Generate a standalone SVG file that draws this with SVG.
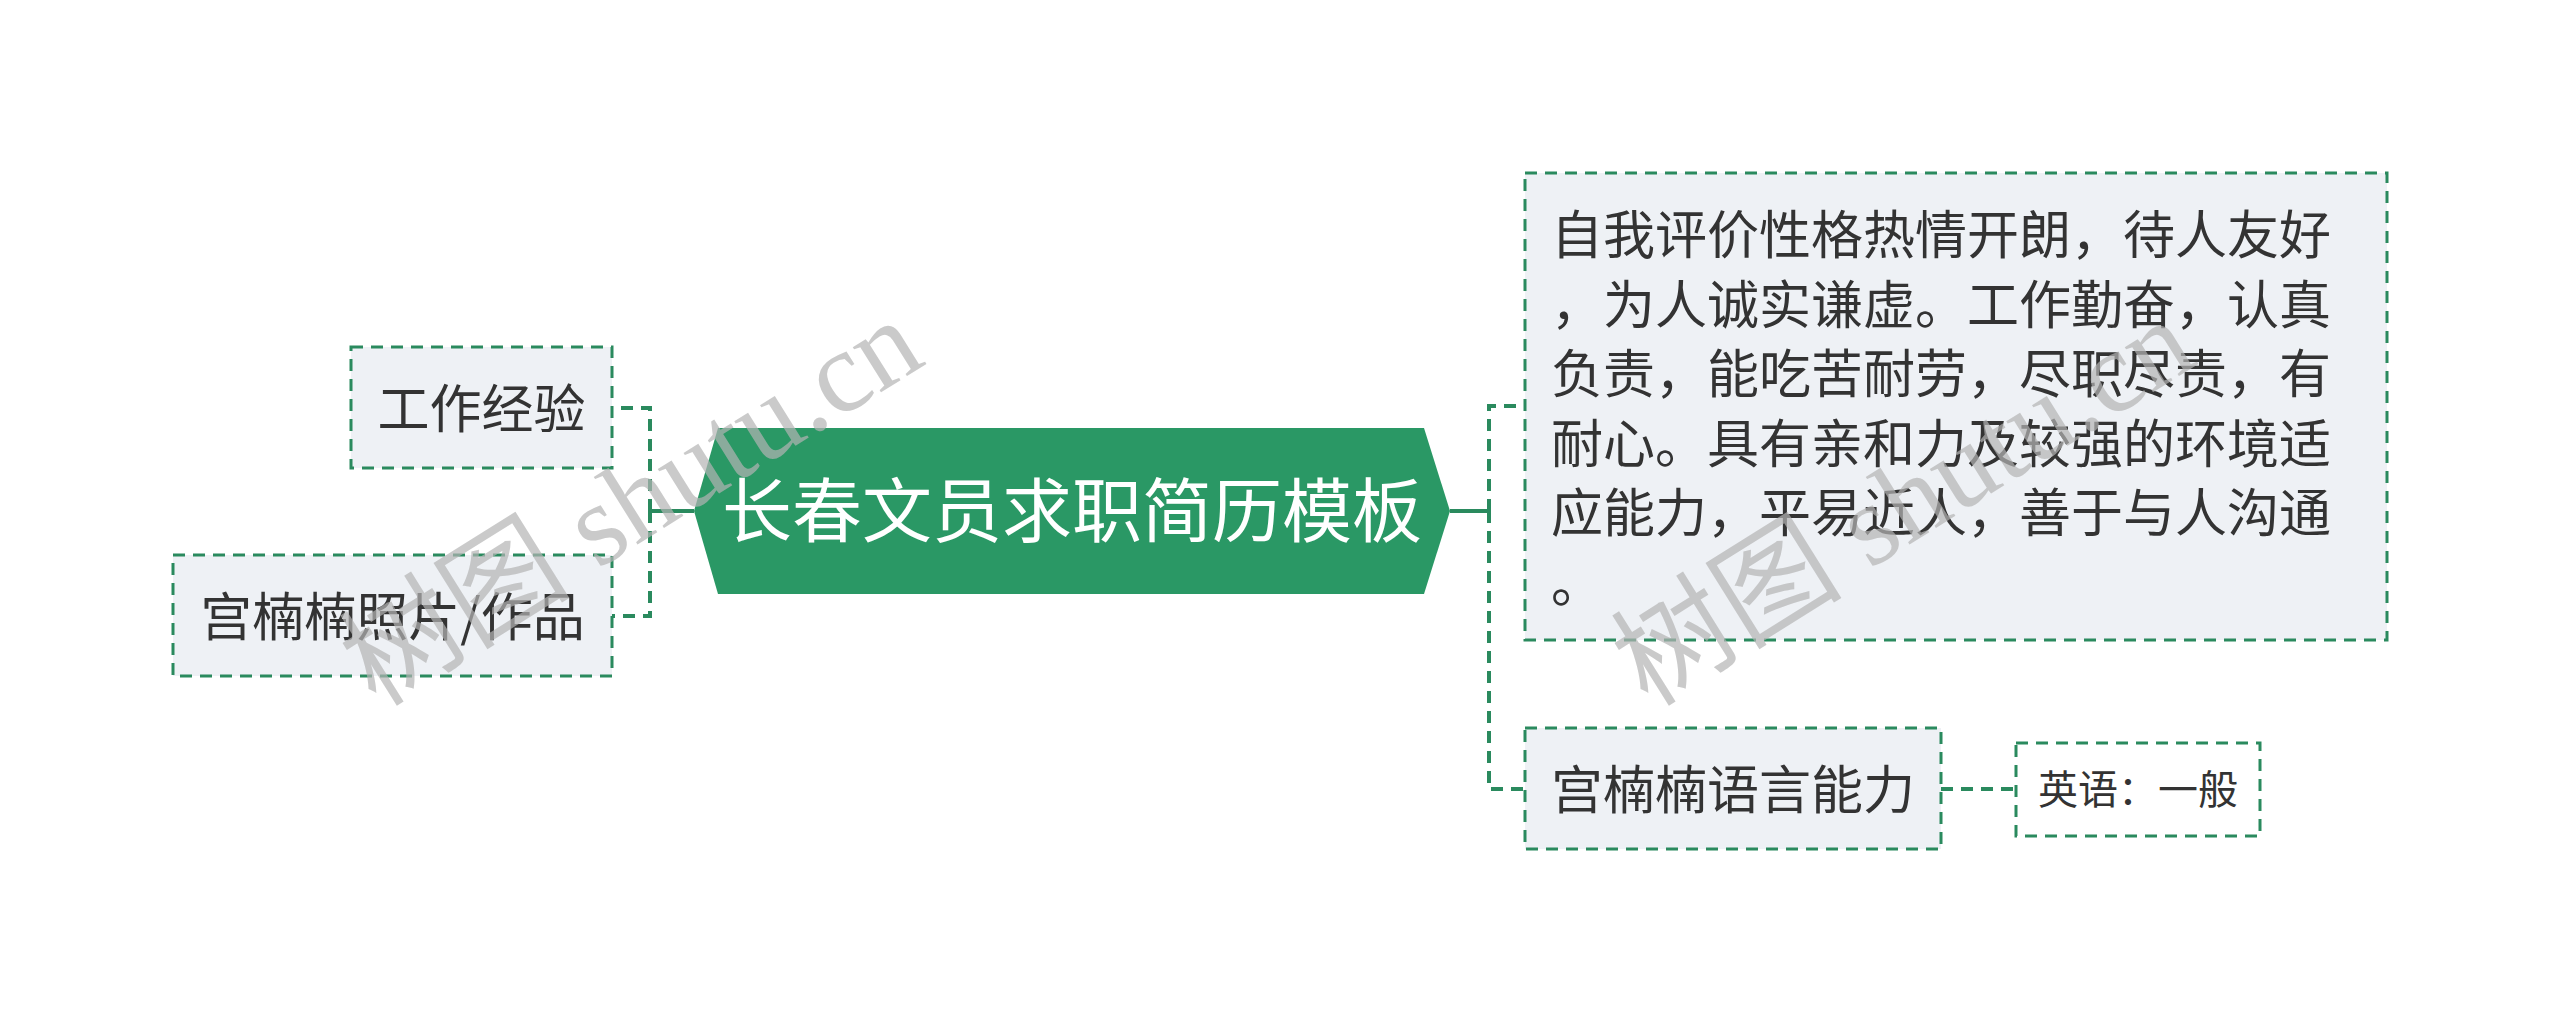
<svg xmlns="http://www.w3.org/2000/svg" width="2560" height="1023" viewBox="0 0 2560 1023">
<style>
.box{fill:#eef1f5;stroke:#2a8a5e;stroke-width:3;stroke-dasharray:12 8}
.boxw{fill:#ffffff;stroke:#2a8a5e;stroke-width:3;stroke-dasharray:12 8}
.t{font-family:"Noto Sans CJK SC","Noto Sans",sans-serif;fill:#333333}
.c{text-anchor:middle}
.dash{fill:none;stroke:#2a8a5e;stroke-width:4;stroke-dasharray:12 8}
.solid{fill:none;stroke:#2a8a5e;stroke-width:4}
.wm{font-family:"Liberation Serif","Noto Sans CJK SC",serif;font-size:116px;fill:#b4b4b4;fill-opacity:0.7}
</style>
<rect width="2560" height="1023" fill="#ffffff"/>
<g id="connectors">
  <path class="solid" d="M694,511 H650"/>
  <path class="dash" d="M650,511 V408 H612"/>
  <path class="dash" d="M650,511 V616 H612"/>
  <path class="solid" d="M1450,511 H1489"/>
  <path class="dash" d="M1489,511 V406 H1525"/>
  <path class="dash" d="M1489,511 V789 H1525"/>
  <path class="dash" d="M1941,789 H2016"/>
</g>
<g id="center">
  <polygon points="694,511 718,428 1424,428 1450,511 1424,594 718,594" fill="#2a9865"/>
  <text class="c" x="1072" y="537" font-family="Noto Sans CJK SC, sans-serif" font-size="70" fill="#ffffff">长春文员求职简历模板</text>
</g>
<g id="node-work">
  <rect class="box" x="351" y="347" width="261" height="121"/>
  <text class="t c" x="481.5" y="428" font-size="52">工作经验</text>
</g>
<g id="node-photo">
  <rect class="box" x="173" y="555" width="439" height="121"/>
  <text class="t c" x="392.5" y="636" font-size="52">宫楠楠照片/作品</text>
</g>
<g id="node-self">
  <rect class="box" x="1525" y="173" width="862" height="467"/>
  <text class="t" font-size="52">
    <tspan x="1551" y="254">自我评价性格热情开朗，待人友好</tspan>
    <tspan x="1551" y="323.5">，为人诚实谦虚。工作勤奋，认真</tspan>
    <tspan x="1551" y="393">负责，能吃苦耐劳，尽职尽责，有</tspan>
    <tspan x="1551" y="462.5">耐心。具有亲和力及较强的环境适</tspan>
    <tspan x="1551" y="532">应能力，平易近人，善于与人沟通</tspan>
    <tspan x="1551" y="601.5">。</tspan>
  </text>
</g>
<g id="node-lang">
  <rect class="box" x="1525" y="728" width="416" height="121"/>
  <text class="t c" x="1733" y="809" font-size="52">宫楠楠语言能力</text>
</g>
<g id="node-english">
  <rect class="boxw" x="2016" y="743" width="244" height="93"/>
  <text class="t c" x="2138" y="804" font-size="40">英语：一般</text>
</g>
<g id="watermark">
  <text class="wm" transform="translate(376,708) rotate(-32)">树图 shutu.cn</text>
  <text class="wm" transform="translate(1648,708) rotate(-32)">树图 shutu.cn</text>
</g>
</svg>
